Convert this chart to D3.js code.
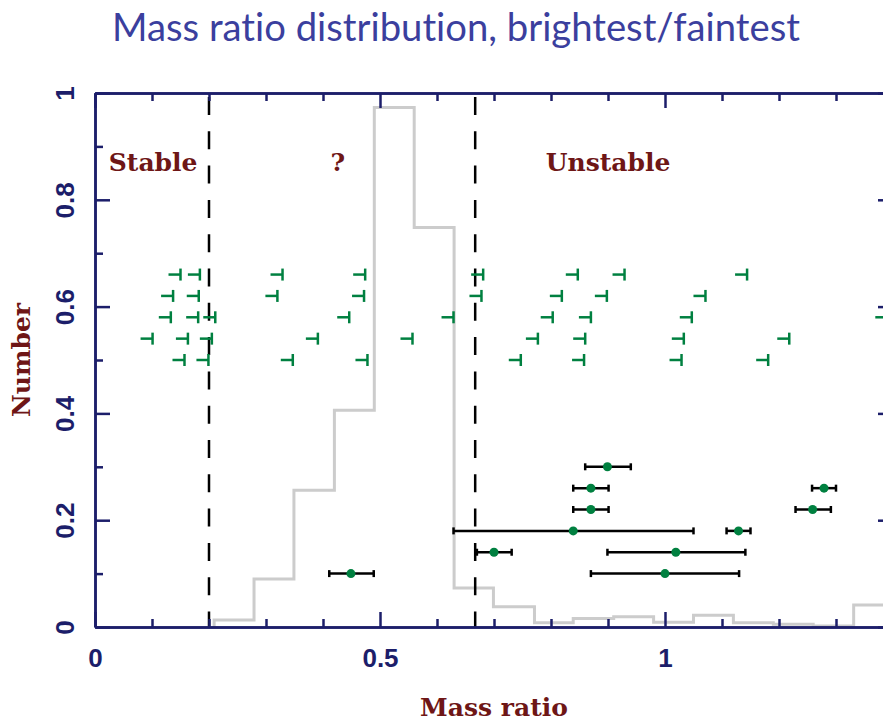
<!DOCTYPE html>
<html>
<head>
<meta charset="utf-8">
<script src="https://cdn.jsdelivr.net/npm/d3@7"></script>
<style>
  html, body { margin: 0; padding: 0; background: #fff; overflow: hidden; }
  text { font-variant-ligatures: none; }
</style>
</head>
<body>
<div id="chart"></div>
<script>
// Chart data
const histEdges = [0.209, 0.279, 0.349, 0.420, 0.490, 0.560, 0.630, 0.699, 0.771, 0.839,
                   0.910, 0.980, 1.050, 1.120, 1.190, 1.260, 1.331, 1.401];
const histValues = [0.013, 0.090, 0.256, 0.406, 0.973, 0.748, 0.073, 0.038, 0.008,
                    0.016, 0.019, 0.009, 0.022, 0.008, 0.005, 0.002, 0.041];

// upper limits (green "⊣" markers)
const limitX = [0.150, 0.184, 0.329, 0.474, 0.681, 0.847, 0.929, 1.144,
                0.137, 0.182, 0.320, 0.472, 0.678, 0.819, 0.898, 1.071,
                0.133, 0.181, 0.211, 0.446, 0.629, 0.803, 0.870, 1.047, 1.390,
                0.101, 0.163, 0.205, 0.391, 0.557, 0.777, 0.860, 1.033, 1.218,
                0.000, 0.157, 0.199, 0.347, 0.478, 0.747, 0.858, 1.029, 1.181];
const limitY = [0.66, 0.66, 0.66, 0.66, 0.66, 0.66, 0.66, 0.66,
                0.62, 0.62, 0.62, 0.62, 0.62, 0.62, 0.62, 0.62,
                0.58, 0.58, 0.58, 0.58, 0.58, 0.58, 0.58, 0.58, 0.58,
                0.54, 0.54, 0.54, 0.54, 0.54, 0.54, 0.54, 0.54, 0.54,
                0.50, 0.50, 0.50, 0.50, 0.50, 0.50, 0.50, 0.50, 0.50];

// measured ratios with error bars
const pointX  = [0.899, 0.870, 1.279, 0.870, 1.259, 0.839, 1.129, 0.700, 1.019, 1.000, 0.449];
const pointY  = [0.30, 0.26, 0.26, 0.22, 0.22, 0.18, 0.18, 0.14, 0.14, 0.10, 0.10];
const pointLo = [0.860, 0.839, 1.258, 0.839, 1.229, 0.629, 1.108, 0.670, 0.899, 0.870, 0.411];
const pointHi = [0.940, 0.901, 1.300, 0.901, 1.291, 1.050, 1.150, 0.731, 1.141, 1.130, 0.489];

const boundaries = [0.2, 0.667];
const regionNames = ["Stable", "?", "Unstable"];
const regionX = [0.102, 0.426, 0.900];
const regionY = 0.87;

const xMajor = [0, 0.5, 1];
const xMinor = [0.1, 0.2, 0.3, 0.4, 0.6, 0.7, 0.8, 0.9, 1.1, 1.2, 1.3];
const yMajor = [0, 0.2, 0.4, 0.6, 0.8, 1];
const yMinor = [0.1, 0.3, 0.5, 0.7, 0.9];

// Layout
const width = 883;
const height = 721;
const plotLeft = 95, plotRight = 893, plotTop = 93, plotBottom = 627;

const navy = "#1c1e6a";
const darkRed = "#6e1616";
const green = "#008040";

const x = d3.scaleLinear().domain([0, 1.4]).range([plotLeft, plotRight]);
const y = d3.scaleLinear().domain([0, 1]).range([plotBottom, plotTop]);

const svg = d3.select("#chart").append("svg")
    .attr("width", width)
    .attr("height", height)
    .style("display", "block");

svg.append("defs").append("clipPath")
    .attr("id", "plot-clip")
    .append("rect")
    .attr("x", plotLeft).attr("y", plotTop)
    .attr("width", plotRight - plotLeft).attr("height", plotBottom - plotTop);

// Title, fitted to the width it has in the reference
const title = svg.append("text")
    .attr("x", 456)
    .attr("y", 41)
    .attr("text-anchor", "middle")
    .attr("font-family", "Lato, 'Open Sans', sans-serif")
    .attr("font-size", 36)
    .attr("fill", "#3b3f9e")
    .text("Mass ratio distribution, brightest/faintest");
const titleLen = title.node().getComputedTextLength();
title.attr("font-size", 36 * 688 / titleLen);

const plot = svg.append("g").attr("clip-path", "url(#plot-clip)");

// Histogram as a step line
const histPts = [{x: histEdges[0], y: 0}];
histValues.forEach((v, i) => histPts.push({x: histEdges[i], y: v}));
histPts.push({x: histEdges[histEdges.length - 1], y: histValues[histValues.length - 1]});

plot.append("path")
    .datum(histPts)
    .attr("fill", "none")
    .attr("stroke", "#cccccc")
    .attr("stroke-width", 3)
    .attr("d", d3.line().x(d => x(d.x)).y(d => y(d.y)).curve(d3.curveStepAfter));

// Dashed region boundaries
plot.selectAll(".bound")
    .data(boundaries)
    .join("line")
    .attr("x1", d => x(d)).attr("x2", d => x(d))
    .attr("y1", y(1) + 4).attr("y2", y(0))
    .attr("stroke", "#000")
    .attr("stroke-width", 2.5)
    .attr("stroke-dasharray", "18,16.3");

// Upper limits
const limits = limitX.map((v, i) => ({x: v, y: limitY[i]}));
const lim = plot.append("g")
    .attr("stroke", green)
    .attr("stroke-width", 2.5)
    .selectAll("g")
    .data(limits)
    .join("g")
    .attr("transform", d => `translate(${x(d.x)},${y(d.y)})`);
lim.append("line").attr("x1", -12).attr("x2", 0).attr("y1", 0).attr("y2", 0);
lim.append("line").attr("x1", 0).attr("x2", 0).attr("y1", -6).attr("y2", 6);

// Points with horizontal error bars
const points = pointX.map((v, i) => ({x: v, y: pointY[i], lo: pointLo[i], hi: pointHi[i]}));
const eb = plot.append("g")
    .attr("stroke", "#000")
    .attr("stroke-width", 2.5)
    .selectAll("g")
    .data(points)
    .join("g");
eb.append("line")
    .attr("x1", d => x(d.lo)).attr("x2", d => x(d.hi))
    .attr("y1", d => y(d.y)).attr("y2", d => y(d.y));
eb.append("line")
    .attr("x1", d => x(d.lo)).attr("x2", d => x(d.lo))
    .attr("y1", d => y(d.y) - 3.5).attr("y2", d => y(d.y) + 3.5);
eb.append("line")
    .attr("x1", d => x(d.hi)).attr("x2", d => x(d.hi))
    .attr("y1", d => y(d.y) - 3.5).attr("y2", d => y(d.y) + 3.5);

plot.append("g")
    .selectAll("circle")
    .data(points)
    .join("circle")
    .attr("cx", d => x(d.x))
    .attr("cy", d => y(d.y))
    .attr("r", 4.5)
    .attr("fill", green);

// Region labels
svg.append("g")
    .selectAll("text")
    .data(regionNames)
    .join("text")
    .attr("x", (d, i) => x(regionX[i]))
    .attr("y", y(regionY))
    .attr("dy", "0.36em")
    .attr("text-anchor", "middle")
    .attr("font-family", "'DejaVu Serif', serif")
    .attr("font-weight", "bold")
    .attr("font-size", 25)
    .attr("fill", darkRed)
    .text(d => d);

// Axes: ticks drawn inward on all four sides
function styleAxis(g) {
    g.selectAll("path").attr("stroke", navy).attr("stroke-width", 2.5);
    g.selectAll("line").attr("stroke", navy).attr("stroke-width", 2.5);
    g.selectAll("text")
        .attr("fill", navy)
        .attr("font-family", "'Liberation Sans', Arial, sans-serif")
        .attr("font-weight", "bold")
        .attr("font-size", 26);
}

svg.append("g")
    .attr("transform", `translate(0,${plotBottom})`)
    .call(d3.axisBottom(x).tickValues(xMinor).tickSize(-8).tickSizeOuter(0).tickFormat(""))
    .call(styleAxis);
svg.append("g")
    .attr("transform", `translate(0,${plotBottom})`)
    .call(d3.axisBottom(x).tickValues(xMajor).tickSize(-15).tickSizeOuter(0)
        .tickPadding(22).tickFormat(d3.format("")))
    .call(styleAxis);

svg.append("g")
    .attr("transform", `translate(0,${plotTop})`)
    .call(d3.axisTop(x).tickValues(xMinor).tickSize(-8).tickSizeOuter(0).tickFormat(""))
    .call(styleAxis);
svg.append("g")
    .attr("transform", `translate(0,${plotTop})`)
    .call(d3.axisTop(x).tickValues(xMajor).tickSize(-15).tickSizeOuter(0).tickFormat(""))
    .call(styleAxis);

svg.append("g")
    .attr("transform", `translate(${plotLeft},0)`)
    .call(d3.axisLeft(y).tickValues(yMinor).tickSize(-8).tickSizeOuter(0).tickFormat(""))
    .call(styleAxis);
const yAxis = svg.append("g")
    .attr("transform", `translate(${plotLeft},0)`)
    .call(d3.axisLeft(y).tickValues(yMajor).tickSize(-15).tickSizeOuter(0).tickFormat(d3.format("")))
    .call(styleAxis);
yAxis.selectAll("text")
    .attr("x", null)
    .attr("dy", "0.36em")
    .attr("text-anchor", "middle")
    .attr("transform", "translate(-30,0) rotate(-90)");

svg.append("g")
    .attr("transform", `translate(${plotRight},0)`)
    .call(d3.axisRight(y).tickValues(yMinor).tickSize(-8).tickSizeOuter(0).tickFormat(""))
    .call(styleAxis);
svg.append("g")
    .attr("transform", `translate(${plotRight},0)`)
    .call(d3.axisRight(y).tickValues(yMajor).tickSize(-15).tickSizeOuter(0).tickFormat(""))
    .call(styleAxis);

// Axis titles
svg.append("text")
    .attr("x", (plotLeft + plotRight) / 2)
    .attr("y", 716)
    .attr("text-anchor", "middle")
    .attr("font-family", "'DejaVu Serif', serif")
    .attr("font-weight", "bold")
    .attr("font-size", 25)
    .attr("fill", darkRed)
    .text("Mass ratio");

svg.append("text")
    .attr("transform", `translate(30,${(plotTop + plotBottom) / 2}) rotate(-90)`)
    .attr("text-anchor", "middle")
    .attr("font-family", "'DejaVu Serif', serif")
    .attr("font-weight", "bold")
    .attr("font-size", 25)
    .attr("fill", darkRed)
    .text("Number");
</script>
</body>
</html>
